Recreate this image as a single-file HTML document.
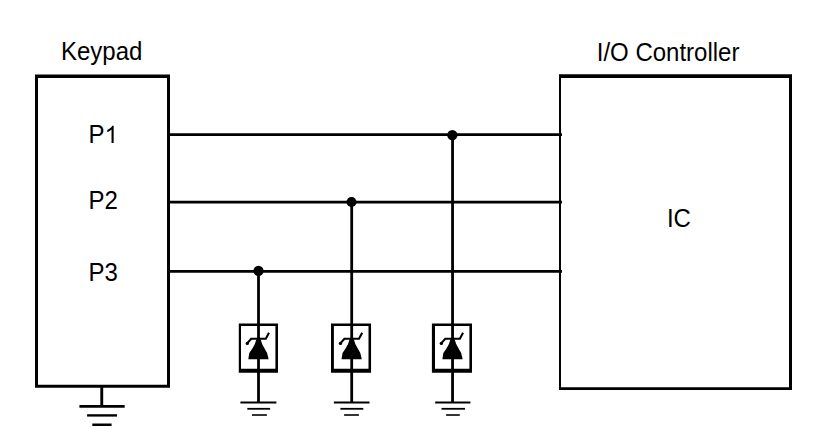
<!DOCTYPE html>
<html><head><meta charset="utf-8">
<style>
html,body{margin:0;padding:0;background:#fff;}
body{width:825px;height:435px;overflow:hidden;}
svg{display:block;}
text{font-family:"Liberation Sans",sans-serif;font-size:24px;fill:#000;}
</style></head>
<body>
<svg width="825" height="435" viewBox="0 0 825 435">
<defs>
<path id="one" d="M763 0H583V1147C540 1106 483 1064 413 1023C342 982 279 951 223 930V1104C324 1151 412 1208 487 1276C562 1343 615 1409 646 1472H763Z"/>
<g id="z">
<polygon points="-2.2,339.6 2.2,339.6 3.6,344 5.8,348.1 8.6,353.1 10.1,359.2 -10.2,359.2 -9.2,353.1 -5.8,348.1 -3.6,344"/>
<polyline points="-11.6,343.6 -7.3,338.7 7.3,338.7 10.5,332.8" fill="none" stroke="#000" stroke-width="2.1"/>
<circle cx="-11.2" cy="343.4" r="1.7"/>
</g>
</defs>
<rect x="0" y="0" width="825" height="435" fill="#fff"/>

<!-- labels (scaled vertically to Arial cap height) -->
<g transform="translate(0,60) scale(1,1.04)"><text x="61" y="0">Keypad</text></g>
<g transform="translate(0,60.5) scale(1,1.04)"><text x="596.8" y="0">I/O Controller</text></g>
<g transform="translate(0,143) scale(1,1.04)"><text x="88.4" y="0">P</text></g>
<use href="#one" transform="translate(104.7,143) scale(0.01171875,-0.01171875)"/>
<g transform="translate(0,209) scale(1,1.04)"><text x="88.4" y="0">P2</text></g>
<g transform="translate(0,281) scale(1,1.04)"><text x="88.4" y="0">P3</text></g>
<g transform="translate(0,227.3) scale(1,1.04)"><text x="666.9" y="0">IC</text></g>

<!-- keypad box -->
<path fill="#000" fill-rule="evenodd" d="M35 74.5H170V387.8H35Z M38 78.1V384.8H167V78.1Z"/>
<!-- IC box -->
<path fill="#000" fill-rule="evenodd" d="M559 74.3H792V390H559Z M561 78V387.3H789V78Z"/>

<!-- zener boxes -->
<path fill="#000" fill-rule="evenodd" d="M238.8 323.5H278V372.7H238.8Z M241 325.9V368.8H275.4V325.9Z"/>
<path fill="#000" fill-rule="evenodd" d="M331 323.5H371.05V372.7H331Z M333.9 325.9V368.8H368.5V325.9Z"/>
<path fill="#000" fill-rule="evenodd" d="M431.9 323.5H472V372.7H431.9Z M435 325.9V368.8H469.4V325.9Z"/>

<g fill="none" stroke="#000">
<!-- wires -->
<line x1="169" y1="134.6" x2="562" y2="134.6" stroke-width="2.8"/>
<line x1="169" y1="202.1" x2="562" y2="202.1" stroke-width="2.7"/>
<line x1="169" y1="271.4" x2="562" y2="271.4" stroke-width="2.8"/>

<!-- branch verticals -->
<line x1="258.5" y1="271" x2="258.5" y2="402.5" stroke-width="2.8"/>
<line x1="351.7" y1="202" x2="351.7" y2="402.5" stroke-width="2.8"/>
<line x1="452.55" y1="135" x2="452.55" y2="402.5" stroke-width="2.8"/>

<!-- branch grounds -->
<g stroke-width="1.8">
<line x1="240.4" y1="402.5" x2="276.4" y2="402.5"/>
<line x1="247.3" y1="408.8" x2="270.1" y2="408.8"/>
<line x1="252" y1="415" x2="266.9" y2="415" stroke-width="1.6"/>
<line x1="333.9" y1="402.5" x2="369.5" y2="402.5"/>
<line x1="340.4" y1="408.8" x2="363.3" y2="408.8"/>
<line x1="344.1" y1="415" x2="358.9" y2="415" stroke-width="1.6"/>
<line x1="435.2" y1="402.5" x2="470.4" y2="402.5"/>
<line x1="441.5" y1="408.8" x2="465" y2="408.8"/>
<line x1="446.1" y1="415" x2="459.8" y2="415" stroke-width="1.6"/>
</g>

<!-- keypad ground -->
<line x1="101.75" y1="387" x2="101.75" y2="405.5" stroke-width="2.9"/>
<line x1="79.4" y1="406.45" x2="124.7" y2="406.45" stroke-width="2.7"/>
<line x1="87.1" y1="415.4" x2="117" y2="415.4" stroke-width="2.4"/>
<line x1="92.3" y1="424.75" x2="111.6" y2="424.75" stroke-width="2.5"/>
</g>

<!-- junction dots -->
<g fill="#000">
<circle cx="258.5" cy="270.9" r="5.15"/>
<circle cx="351.5" cy="201.95" r="5.05"/>
<circle cx="452.35" cy="135.1" r="5.2"/>
</g>

<!-- zener diodes -->
<use href="#z" x="258.5"/>
<use href="#z" x="351.7"/>
<use href="#z" x="452.55"/>
</svg>
</body></html>
